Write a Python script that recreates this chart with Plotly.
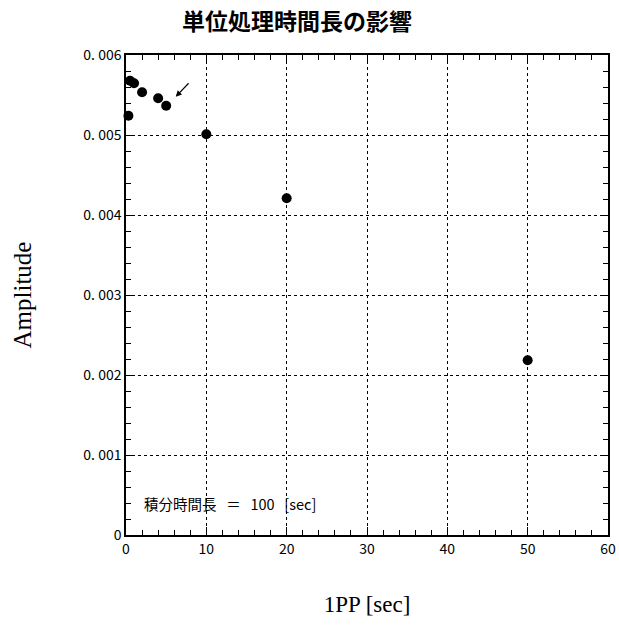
import plotly.graph_objects as go

# Data
ipp_sec = [0.3, 0.5, 1, 2, 4, 5, 10, 20, 50]
amplitude = [0.005241, 0.005679, 0.005646, 0.005534, 0.005459, 0.005366, 0.005009, 0.004209, 0.002185]

y_tickvals = [0, 0.001, 0.002, 0.003, 0.004, 0.005, 0.006]
y_ticktext = ["0", "0. 001", "0. 002", "0. 003", "0. 004", "0. 005", "0. 006"]
x_tickvals = [0, 10, 20, 30, 40, 50, 60]
x_ticktext = ["0", "10", "20", "30", "40", "50", "60"]

title_text = "単位処理時間長の影響"
note_text = "積分時間長&nbsp;&nbsp;&nbsp;＝&nbsp;&nbsp;&nbsp;100&nbsp;&nbsp;&nbsp;[sec]"

jp = "Noto Sans CJK JP"
serif = "Liberation Serif"

fig = go.Figure()
fig.add_trace(go.Scatter(
    x=ipp_sec, y=amplitude, mode="markers",
    marker=dict(color="black", size=10, symbol="circle"),
    showlegend=False, cliponaxis=False,
))

axis_common = dict(
    showline=True, linecolor="black", linewidth=1.5, mirror="allticks",
    ticks="inside", ticklen=8, tickcolor="black", tickwidth=1,
    showgrid=True, gridcolor="black", griddash="dot", gridwidth=1,
    zeroline=False, tickfont=dict(family=jp, size=14, color="black"),
    automargin=False,
)

fig.update_xaxes(
    range=[0, 60], tickvals=x_tickvals, ticktext=x_ticktext,
    minor=dict(ticks="inside", dtick=2, ticklen=5, tickcolor="black", showgrid=False),
    title=dict(text="1PP [sec]", font=dict(family=serif, size=23, color="black"), standoff=39),
    **axis_common,
)
fig.update_yaxes(
    range=[0, 0.006], tickvals=y_tickvals, ticktext=y_ticktext,
    minor=dict(ticks="inside", dtick=0.0002, ticklen=5, tickcolor="black", showgrid=False),
    title=dict(text="Amplitude", font=dict(family=serif, size=25, color="black"), standoff=45),
    **axis_common,
)

fig.add_annotation(
    x=2, y=0.000395, xref="x", yref="y", text=note_text, showarrow=False,
    xanchor="left", yanchor="middle", font=dict(family=jp, size=14.5, color="black"),
)
fig.add_annotation(
    x=6.19, y=0.005479, ax=7.97, ay=0.005666, xref="x", yref="y", axref="x", ayref="y",
    text="", showarrow=True, arrowhead=2, arrowsize=1, arrowwidth=1.2, arrowcolor="black",
)

fig.update_layout(
    width=619, height=626,
    margin=dict(l=126, r=11, t=55, b=91),
    paper_bgcolor="white", plot_bgcolor="white",
    title=dict(text="<b>" + title_text + "</b>", x=0.48, xanchor="center", y=0.965, yanchor="middle",
               font=dict(family=jp, size=23, color="black")),
)

fig.write_html("out.html")
